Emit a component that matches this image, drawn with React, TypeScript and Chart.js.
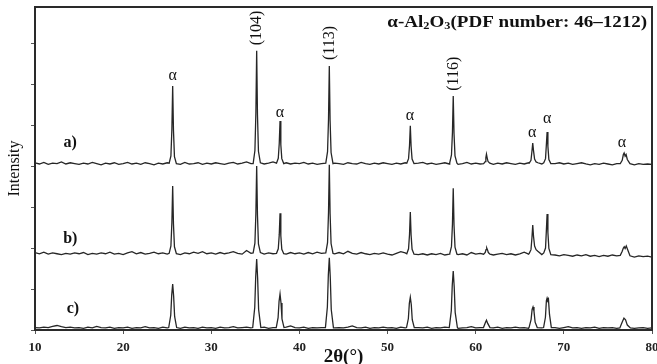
import React, { useEffect, useRef } from "react";
import { Chart, registerables } from "chart.js";

Chart.register(...registerables);

// 2θ grid for the baseline readings (degrees), one reading every 0.5°
const GRID_START = 10;
const GRID_STEP = 0.5;

// baseline readings (arbitrary intensity units), trace a)
const baseA = [
  408, 405, 409, 404, 407, 406, 410, 405, 408, 406,
  404, 407, 405, 409, 406, 403, 407, 405, 408, 404,
  406, 409, 405, 407, 404, 408, 406, 403, 407, 405,
  408, 406, 407, 404, 409, 405, 406, 408, 404, 407,
  405, 408, 406, 404, 407, 409, 405, 407, 410, 406,
  408, 406, 405, 407, 410, 406, 404, 408, 405, 407,
  406, 409, 405, 407, 404, 406, 409, 405, 407, 406,
  404, 408, 406, 405, 409, 406, 404, 407, 405, 408,
  406, 404, 407, 405, 408, 406, 404, 407, 409, 405,
  407, 404, 406, 408, 405, 407, 404, 406, 409, 405,
  407, 405, 408, 406, 404, 407, 405, 408, 406, 404,
  407, 405, 408, 406, 409, 405, 407, 404, 406, 408,
  405, 407, 404, 406, 408, 405, 403, 406, 404, 407,
  405, 403, 406, 404, 407, 405, 403, 406, 404, 405,
  404,
];

// baseline readings, trace b)
const baseB = [
  189, 186, 190, 185, 188, 186, 184, 187, 185, 188,
  186, 189, 184, 187, 185, 188, 186, 190, 185, 187,
  184, 188, 191, 186, 189, 185, 187, 190, 186, 188,
  185, 189, 187, 184, 188, 186, 190, 187, 191, 186,
  188, 185, 189, 186, 188, 191, 187, 185, 194, 187,
  186, 189, 185, 188, 186, 190, 187, 185, 189, 186,
  188, 185, 189, 186, 190, 187, 185, 188, 186, 189,
  186, 192, 187, 185, 189, 186, 184, 187, 185, 188,
  185, 183, 187, 191, 188, 185, 187, 184, 186, 183,
  186, 184, 187, 183, 185, 188, 184, 186, 183, 189,
  185, 187, 184, 186, 183, 185, 187, 184, 186, 183,
  186, 190, 185, 194, 186, 184, 182, 185, 183, 181,
  184, 182, 180, 183, 181, 184, 180, 182, 179, 182,
  180, 183, 181, 179, 182, 180, 178, 181, 179, 180,
  178,
];

// baseline readings, trace c)
const baseC = [
  6, 5, 7, 6, 9, 11, 8, 6, 7, 5,
  6, 4, 7, 5, 9, 6, 5, 7, 4, 6,
  5, 7, 4, 6, 5, 8, 5, 6, 4, 7,
  5, 6, 6, 4, 7, 5, 6, 4, 7, 5,
  6, 4, 7, 5, 6, 8, 5, 6, 7, 5,
  6, 5, 7, 4, 6, 6, 5, 7, 10, 6,
  5, 7, 4, 6, 5, 6, 4, 7, 5, 6,
  5, 7, 10, 6, 5, 7, 4, 6, 5, 7,
  5, 6, 4, 7, 5, 6, 4, 6, 5, 7,
  4, 6, 5, 7, 5, 6, 4, 5, 6, 8,
  5, 6, 4, 6, 5, 7, 4, 6, 5, 7,
  5, 6, 4, 7, 6, 5, 7, 5, 6, 4,
  6, 8, 5, 6, 4, 6, 5, 7, 4, 6,
  5, 6, 4, 7, 5, 6, 4, 5, 6, 4,
  5,
];

// peak readings [2θ, intensity], trace a)
const peaksA = [
  [[25.22, 407], [25.42, 425], [25.53, 490], [25.62, 595], [25.71, 487], [25.82, 423], [26.04, 406]],
  [[34.75, 406], [34.95, 438], [35.06, 530], [35.15, 681], [35.24, 525], [35.35, 436], [35.57, 408]],
  [[37.4, 407], [37.6, 419], [37.71, 455], [37.8, 510], [37.89, 452], [38.0, 418], [38.22, 406]],
  [[42.99, 407], [43.19, 435], [43.3, 515], [43.39, 644], [43.48, 510], [43.59, 433], [43.81, 406]],
  [[52.18, 407], [52.38, 418], [52.49, 450], [52.58, 498], [52.67, 448], [52.78, 417], [53.0, 406]],
  [[57.05, 408], [57.25, 427], [57.36, 482], [57.45, 571], [57.54, 478], [57.65, 425], [57.87, 407]],
  [[60.9, 406], [61.08, 411], [61.15, 420], [61.22, 429], [61.3, 420], [61.4, 411], [61.6, 407]],
  [[66.07, 407], [66.27, 414], [66.38, 436], [66.47, 456], [66.56, 437], [66.68, 417], [66.85, 410], [67.05, 408]],
  [[67.72, 408], [67.92, 418], [68.01, 450], [68.1, 483], [68.19, 448], [68.3, 416], [68.52, 406]],
  [[76.4, 406], [76.62, 414], [76.75, 428], [76.84, 432], [76.95, 424], [77.06, 428], [77.2, 416], [77.5, 406]],
];

// peak readings, trace b)
const peaksB = [
  [[25.22, 187], [25.42, 205], [25.53, 262], [25.62, 351], [25.71, 258], [25.82, 203], [26.04, 186]],
  [[34.75, 188], [34.95, 212], [35.06, 285], [35.15, 400], [35.24, 280], [35.35, 210], [35.57, 189]],
  [[37.4, 187], [37.6, 198], [37.71, 232], [37.8, 285], [37.89, 230], [38.0, 197], [38.22, 186]],
  [[42.99, 188], [43.19, 213], [43.3, 287], [43.39, 403], [43.48, 283], [43.59, 211], [43.81, 187]],
  [[52.18, 186], [52.38, 198], [52.49, 233], [52.58, 288], [52.67, 231], [52.78, 197], [53.0, 185]],
  [[57.05, 186], [57.25, 204], [57.36, 258], [57.45, 346], [57.54, 255], [57.65, 202], [57.87, 185]],
  [[60.9, 185], [61.08, 189], [61.17, 196], [61.25, 200], [61.33, 196], [61.43, 189], [61.62, 185]],
  [[66.07, 187], [66.27, 196], [66.38, 225], [66.47, 256], [66.56, 228], [66.68, 205], [66.85, 196], [67.05, 192]],
  [[67.72, 188], [67.92, 200], [68.01, 240], [68.1, 283], [68.19, 238], [68.3, 199], [68.52, 184]],
  [[76.4, 182], [76.62, 192], [76.75, 200], [76.85, 203], [76.95, 199], [77.08, 205], [77.22, 197], [77.5, 181]],
];

// peak readings, trace c)
const peaksC = [
  [[25.17, 6], [25.4, 36], [25.51, 85], [25.62, 112], [25.73, 82], [25.84, 33], [26.07, 6]],
  [[34.7, 6], [34.93, 55], [35.04, 130], [35.15, 173], [35.26, 125], [35.37, 50], [35.62, 6]],
  [[37.37, 6], [37.58, 30], [37.69, 70], [37.8, 88], [37.91, 66], [38.02, 27], [38.25, 6]],
  [[42.95, 6], [43.17, 56], [43.28, 135], [43.39, 176], [43.5, 128], [43.61, 50], [43.86, 5]],
  [[52.15, 6], [52.36, 28], [52.47, 65], [52.58, 80], [52.69, 62], [52.8, 25], [53.03, 6]],
  [[57.0, 6], [57.23, 47], [57.34, 110], [57.45, 144], [57.56, 105], [57.67, 43], [57.92, 6]],
  [[60.88, 6], [61.08, 17], [61.22, 24], [61.36, 16], [61.62, 6]],
  [[66.05, 6], [66.28, 25], [66.4, 50], [66.5, 56], [66.61, 46], [66.74, 19], [66.98, 6]],
  [[67.7, 6], [67.91, 31], [68.02, 72], [68.1, 78], [68.17, 73], [68.25, 76], [68.37, 38], [68.58, 6]],
  [[76.35, 5], [76.6, 18], [76.82, 29], [77.0, 25], [77.2, 12], [77.55, 5]],
];

// x axis ticks
const xTicks = [10, 20, 30, 40, 50, 60, 70, 80];

// annotations
const alphaMarks: [number, number][] = [
  [25.62, 620], [37.8, 529], [52.55, 522], [66.4, 481], [68.1, 515], [76.6, 456],
];
const planeMarks: [string, number, number][] = [
  ["(104)", 35.2, 737], ["(113)", 43.47, 700], ["(116)", 57.5, 625],
];
const traceMarks: [string, number, number][] = [
  ["a)", 14.0, 456], ["b)", 14.0, 222], ["c)", 14.3, 51],
];
const titleAnchor: [number, number] = [79.45, 749];

function buildSeries(grid: number[], peaks: number[][][]) {
  const pts: { x: number; y: number }[] = [];
  grid.forEach((y, i) => {
    const x = GRID_START + i * GRID_STEP;
    if (peaks.some((p) => x >= p[0][0] && x <= p[p.length - 1][0])) return;
    pts.push({ x, y });
  });
  peaks.forEach((p) => p.forEach(([x, y]) => pts.push({ x, y })));
  pts.sort((a, b) => a.x - b.x);
  return pts;
}

const SERIF = "'Liberation Serif', 'Times New Roman', serif";

const annotationPlugin = {
  id: "xrdAnnotations",
  afterDatasetsDraw(chart: any) {
    const { ctx, chartArea, scales } = chart;
    const xs = scales.x;
    const ys = scales.y;
    ctx.save();
    // frame
    ctx.strokeStyle = "#2a2a2a";
    ctx.lineWidth = 2;
    ctx.strokeRect(chartArea.left, chartArea.top, chartArea.right - chartArea.left, chartArea.bottom - chartArea.top);
    ctx.fillStyle = "#111";
    ctx.textAlign = "center";
    ctx.textBaseline = "middle";
    // alpha marks
    ctx.font = `16px ${SERIF}`;
    alphaMarks.forEach(([x, y]) => {
      ctx.fillText("α", xs.getPixelForValue(x), ys.getPixelForValue(y));
    });
    // planes (rotated)
    ctx.font = `16px ${SERIF}`;
    planeMarks.forEach(([t, x, y]) => {
      ctx.save();
      ctx.translate(xs.getPixelForValue(x), ys.getPixelForValue(y));
      ctx.rotate(-Math.PI / 2);
      ctx.fillText(t, 0, 0);
      ctx.restore();
    });
    // trace labels
    ctx.font = `bold 16px ${SERIF}`;
    traceMarks.forEach(([t, x, y]) => {
      ctx.fillText(t, xs.getPixelForValue(x), ys.getPixelForValue(y));
    });
    // title with subscripts (slightly widened, as in the source)
    const stretch = 1.12;
    const big = `bold 17px ${SERIF}`;
    const small = `bold 11px ${SERIF}`;
    const parts: [string, string, number][] = [
      ["α-Al", big, 0],
      ["2", small, 3],
      ["O", big, 0],
      ["3", small, 3],
      ["(PDF number: 46–1212)", big, 0],
    ];
    let total = 0;
    parts.forEach(([t, f]) => {
      ctx.font = f;
      total += ctx.measureText(t).width;
    });
    const endX = xs.getPixelForValue(titleAnchor[0]);
    const py = ys.getPixelForValue(titleAnchor[1]);
    ctx.translate(endX - total * stretch, py);
    ctx.scale(stretch, 1);
    ctx.textAlign = "left";
    let px = 0;
    parts.forEach(([t, f, dy]) => {
      ctx.font = f;
      ctx.fillText(t, px, dy);
      px += ctx.measureText(t).width;
    });
    ctx.restore();
  },
};

export default function App() {
  const ref = useRef<HTMLCanvasElement | null>(null);
  useEffect(() => {
    if (!ref.current) return;
    const chart = new Chart(ref.current, {
      type: "line",
      data: {
        datasets: [
          { label: "a)", data: buildSeries(baseA, peaksA) },
          { label: "b)", data: buildSeries(baseB, peaksB) },
          { label: "c)", data: buildSeries(baseC, peaksC) },
        ].map((d) => ({
          ...d,
          borderColor: "#262626",
          borderWidth: 1.3,
          pointRadius: 0,
          tension: 0,
          fill: false,
        })),
      },
      options: {
        responsive: false,
        animation: false,
        layout: { padding: { top: 7, right: 5, left: 0, bottom: 0 } },
        plugins: { legend: { display: false }, tooltip: { enabled: false } },
        scales: {
          x: {
            type: "linear",
            min: 10,
            max: 80,
            afterBuildTicks: (s: any) => {
              s.ticks = xTicks.map((v) => ({ value: v }));
            },
            afterFit: (s: any) => {
              s.height = 34;
              s.paddingLeft = 0;
              s.paddingRight = 0;
            },
            grid: { drawOnChartArea: false, drawTicks: true, tickLength: 4, color: "#555" },
            border: { display: true, color: "#666", width: 2 },
            ticks: {
              padding: 6,
              color: "#222",
              font: { family: SERIF, size: 13, weight: "bold" },
            },
            title: {
              display: true,
              text: "2θ(°)",
              color: "#111",
              font: { family: SERIF, size: 19, weight: "bold" },
              padding: { top: 0, bottom: -4 },
            },
          },
          y: {
            type: "linear",
            min: 0,
            max: 788,
            afterBuildTicks: (s: any) => {
              const t = [];
              for (let v = 0; v <= 788; v += 100) t.push({ value: v });
              s.ticks = t;
            },
            afterFit: (s: any) => {
              s.width = 35;
              s.paddingTop = 0;
              s.paddingBottom = 0;
            },
            grid: { drawOnChartArea: false, drawTicks: true, tickLength: 4, color: "#555" },
            border: { display: true, color: "#2a2a2a", width: 2 },
            ticks: { display: false },
            title: {
              display: true,
              text: "Intensity",
              color: "#111",
              font: { family: SERIF, size: 16 },
              padding: { top: 5, bottom: 0 },
            },
          },
        },
      },
      plugins: [annotationPlugin],
    } as any);
    return () => chart.destroy();
  }, []);
  return (
    <div style={{ position: "fixed", left: 0, top: 0, width: 657, height: 364, background: "#fff" }}>
      <canvas ref={ref} width={657} height={364} style={{ display: "block" }} />
    </div>
  );
}
